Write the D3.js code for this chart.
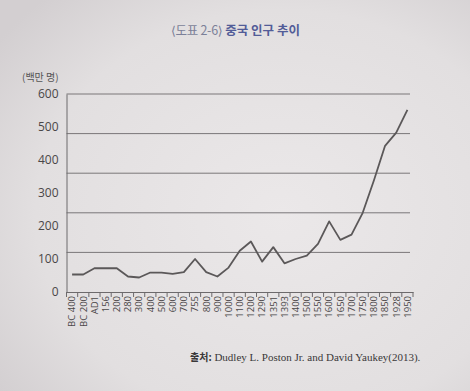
<!DOCTYPE html>
<html>
<head>
<meta charset="utf-8">
<script src="https://cdn.jsdelivr.net/npm/d3@7"></script>
<style>
html,body{margin:0;padding:0;background:#e2dedf;}
svg{display:block;}
</style>
</head>
<body>
<svg id="chart" width="470" height="391"></svg>
<script>
const categories = ["BC 400","BC 200","AD1","156","200","280","300","400","500","600","700","755","800","900","1000","1100","1200","1290","1351","1393","1400","1500","1550","1600","1650","1700","1750","1800","1850","1928","1950"];
const population = [53,53,72,72,72,47,44,59,59,55,60,100,60,47,74,125,153,92,136,87,100,110,146,214,158,174,240,338,443,483,552];
const yTicks = [0,100,200,300,400,500,600];
const gridValues = [120,240,360,480,600];
const titleParts = ["⟨도표 2-6⟩", " 중국 인구 추이"];
const unitLabel = "(백만 명)";
const sourceLabel = ["출처:", " Dudley L. Poston Jr. and David Yaukey(2013)."];

(function () {
const svg = d3.select("#chart");

const defs = svg.append("defs");
const rg = defs.append("radialGradient").attr("id","paper").attr("cx","60%").attr("cy","55%").attr("r","75%");
rg.append("stop").attr("offset","0%").attr("stop-color","#ebe8e9");
rg.append("stop").attr("offset","70%").attr("stop-color","#e2dfe0");
rg.append("stop").attr("offset","100%").attr("stop-color","#d3cfd1");
svg.append("rect").attr("width",470).attr("height",391).attr("fill","url(#paper)");

const mLeft = 66.5, mRight = 413, mTop = 94, mBottom = 292;

const x = d3.scaleBand().domain(categories).range([mLeft, mRight]).padding(0);
const y = d3.scaleLinear().domain([0, 600]).range([mBottom, mTop]);

const title = svg.append("text").attr("x", 171).attr("y", 35)
  .attr("font-family", "'Noto Sans CJK KR', 'DejaVu Sans', sans-serif").attr("font-size", 12.5);
title.append("tspan").text(titleParts[0]).attr("fill", "#7b7f98").attr("letter-spacing", -0.3);
title.append("tspan").text(titleParts[1]).attr("fill", "#525c98").attr("font-weight", "bold");

svg.append("text").attr("x", 22).attr("y", 81).text(unitLabel)
  .attr("font-family", "'Noto Sans CJK KR', sans-serif").attr("font-size", 10).attr("fill", "#555");

svg.append("g").selectAll("line").data(gridValues).join("line")
  .attr("x1", mLeft).attr("x2", mRight - 3)
  .attr("y1", d => y(d)).attr("y2", d => y(d))
  .attr("stroke", "#7a7779").attr("stroke-width", 1);

const yAxis = d3.axisLeft(y).tickValues(yTicks).tickSize(0).tickPadding(8);
const gy = svg.append("g").attr("transform", `translate(${mLeft},0)`).call(yAxis);
gy.select(".domain").attr("stroke", "#6d6a6c");
gy.selectAll("text").attr("font-family", "'Open Sans', 'Noto Sans', sans-serif")
  .attr("font-size", 12).attr("fill", "#4a4748");

const xAxis = d3.axisBottom(x).tickSize(0).tickPadding(4);
const gx = svg.append("g").attr("transform", `translate(0,${mBottom})`).call(xAxis);
gx.select(".domain").attr("stroke", "#6d6a6c");
gx.selectAll(".tick text")
  .attr("font-family", "'Open Sans', 'Noto Sans', sans-serif")
  .attr("font-size", 9.5).attr("fill", "#4a4748")
  .attr("transform", "rotate(-90)")
  .attr("text-anchor", "end")
  .attr("x", -4).attr("y", 0).attr("dy", "0.35em");

const bounds = categories.map(c => x(c)).concat([x(categories[categories.length-1]) + x.bandwidth()]);
svg.append("g").selectAll("line").data(bounds).join("line")
  .attr("x1", d => d).attr("x2", d => d)
  .attr("y1", mBottom).attr("y2", mBottom + 5)
  .attr("stroke", "#6d6a6c").attr("stroke-width", 1);

const line = d3.line()
  .x((d, i) => x(categories[i]) + x.bandwidth() / 2)
  .y(d => y(d));
svg.append("path").datum(population)
  .attr("d", line).attr("fill", "none")
  .attr("stroke", "#5b5859").attr("stroke-width", 1.8).attr("stroke-linejoin", "round");

const src = svg.append("text").attr("x", 190).attr("y", 361)
  .attr("font-family", "'Liberation Serif', 'DejaVu Serif', serif").attr("font-size", 11).attr("fill", "#3a3839");
src.append("tspan").text(sourceLabel[0]).attr("font-family", "'Noto Sans CJK KR', sans-serif").attr("font-size", 10).attr("font-weight", "bold");
src.append("tspan").text(sourceLabel[1]);
})();
</script>
</body>
</html>
